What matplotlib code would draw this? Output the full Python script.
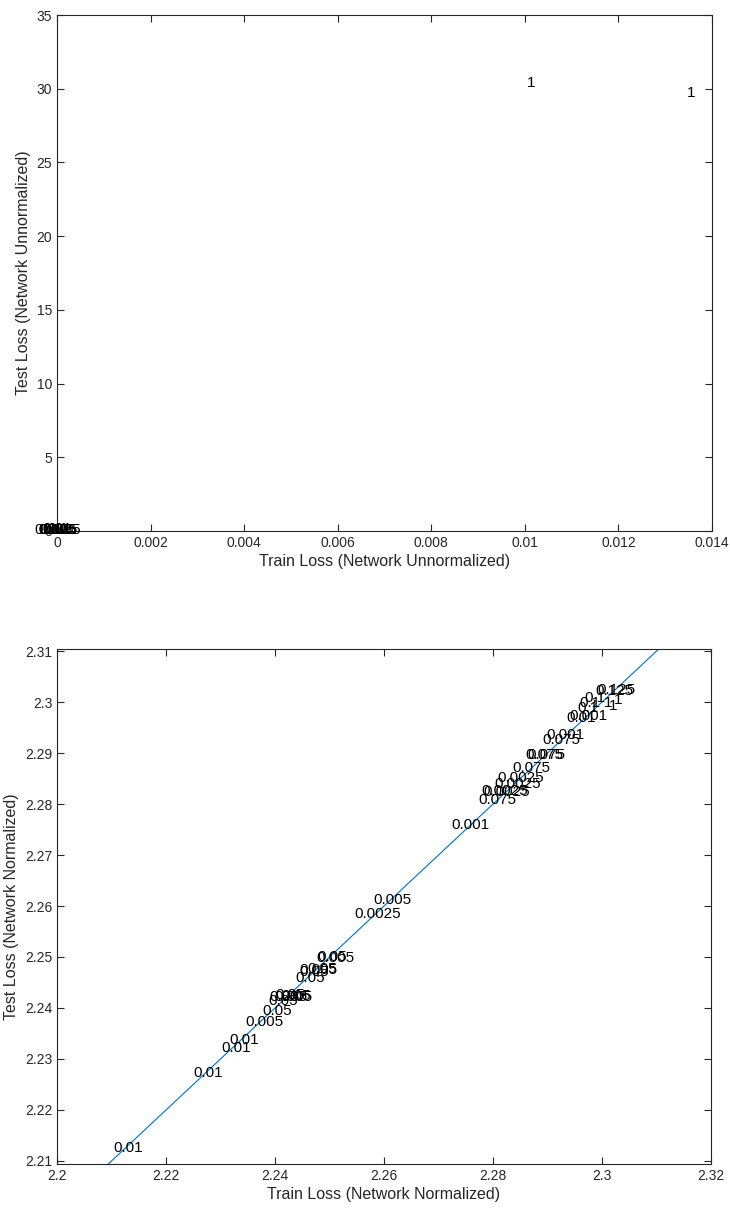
import matplotlib
matplotlib.use("Agg")
import matplotlib.pyplot as plt
from matplotlib.ticker import FormatStrFormatter

plt.rcParams['font.family'] = ['Liberation Sans', 'DejaVu Sans']

#----------------------------------------
#--------data (train loss, test loss, label)----------
#----------------------------------------
# top: unnormalized network
un_train = [0.01013, 0.01355,
            0.00001, 0.00002, 0.00000, 0.00001, 0.00003, 0.00000, 0.00002, 0.00001, 0.00001]
un_test = [30.4, 29.7,
           0.08, 0.10, 0.06, 0.12, 0.07, 0.09, 0.05, 0.11, 0.08]
un_labels = ['1', '1',
             '0.001', '0.0025', '0.005', '0.01', '0.025', '0.05', '0.075', '0.1', '0.125']

# bottom: normalized network
nm_train = [2.21303, 2.22771, 2.23284, 2.23431, 2.23798, 2.24037,
            2.24147, 2.24239, 2.24275, 2.24330, 2.24385,
            2.24642, 2.24716, 2.24789, 2.24862,
            2.25046, 2.25100,
            2.25890, 2.26147,
            2.27578, 2.28073, 2.28220, 2.28257, 2.28459, 2.28514,
            2.28697, 2.28936, 2.28972, 2.29248, 2.29321,
            2.29615, 2.29743, 2.29743, 2.29780, 2.29872,
            2.30110, 2.30202, 2.30294, 2.30220, 2.30257]
nm_test = [2.21255, 2.22725, 2.23216, 2.23373, 2.23725, 2.23941,
           2.24137, 2.24216, 2.24255, 2.24216, 2.24235,
           2.24588, 2.24706, 2.24745, 2.24765,
           2.25000, 2.24980,
           2.25843, 2.26118,
           2.27588, 2.28078, 2.28255, 2.28235, 2.28392, 2.28510,
           2.28706, 2.28961, 2.28961, 2.29255, 2.29353,
           2.29686, 2.29725, 2.29882, 2.29980, 2.30078,
           2.29980, 2.29922, 2.30039, 2.30216, 2.30235]
nm_labels = ['0.01', '0.01', '0.01', '0.01', '0.005', '0.05',
             '0.05', '0.005', '0.05', '0.005', '0.05',
             '0.05', '0.05', '0.005', '0.05',
             '0.05', '0.005',
             '0.0025', '0.005',
             '0.001', '0.075', '0.0025', '0.0025', '0.0025', '0.0025',
             '0.075', '0.075', '0.075', '0.075', '0.001',
             '0.01', '0.001', '0.1', '0.1', '0.1',
             '1', '1', '1', '0.125', '0.125']

# reference line y = x
ref_line = [2.2094, 2.3104]

un_xlim = [0, 0.014]
un_ylim = [0, 35]
nm_xlim = [2.2, 2.32]
nm_ylim = [2.2094, 2.3104]

#----------------------------------------
#--------figure-----------
#----------------------------------------
fig = plt.figure(figsize=(7.30, 12.12), dpi=100)
ax1 = fig.add_axes([0.0781, 0.5619, 0.8973, 0.4257])
ax2 = fig.add_axes([0.0781, 0.0396, 0.8959, 0.4249])

axcol = '#262626'


def style(ax):
    for s in ax.spines.values():
        s.set_color(axcol)
        s.set_linewidth(0.8)
    ax.tick_params(direction='in', length=5, width=0.8, colors=axcol,
                   top=True, right=True, labelsize=10, labelcolor='#262626')


for x, y, t in zip(un_train, un_test, un_labels):
    ax1.text(x, y, t, ha='center', va='center', fontsize=11, clip_on=False)
ax1.set_xlim(un_xlim)
ax1.set_ylim(un_ylim)
ax1.set_xticks([0, 0.002, 0.004, 0.006, 0.008, 0.01, 0.012, 0.014])
ax1.set_yticks([0, 5, 10, 15, 20, 25, 30, 35])
ax1.xaxis.set_major_formatter(FormatStrFormatter('%g'))
ax1.set_xlabel('Train Loss (Network Unnormalized)', fontsize=11.5, color='#262626', labelpad=3)
ax1.set_ylabel('Test Loss (Network Unnormalized)', fontsize=11.5, color='#262626')
style(ax1)

ax2.plot(ref_line, ref_line, color='#0072BD', lw=0.8)
for x, y, t in zip(nm_train, nm_test, nm_labels):
    ax2.text(x, y, t, ha='center', va='center', fontsize=11, clip_on=False)
ax2.set_xlim(nm_xlim)
ax2.set_ylim(nm_ylim)
ax2.set_xticks([2.2, 2.22, 2.24, 2.26, 2.28, 2.3, 2.32])
ax2.set_yticks([2.21, 2.22, 2.23, 2.24, 2.25, 2.26, 2.27, 2.28, 2.29, 2.3, 2.31])
ax2.xaxis.set_major_formatter(FormatStrFormatter('%g'))
ax2.yaxis.set_major_formatter(FormatStrFormatter('%g'))
ax2.set_xlabel('Train Loss (Network Normalized)', fontsize=11.5, color='#262626', labelpad=3)
ax2.set_ylabel('Test Loss (Network Normalized)', fontsize=11.5, color='#262626')
style(ax2)

plt.savefig('out.png', dpi=100)
